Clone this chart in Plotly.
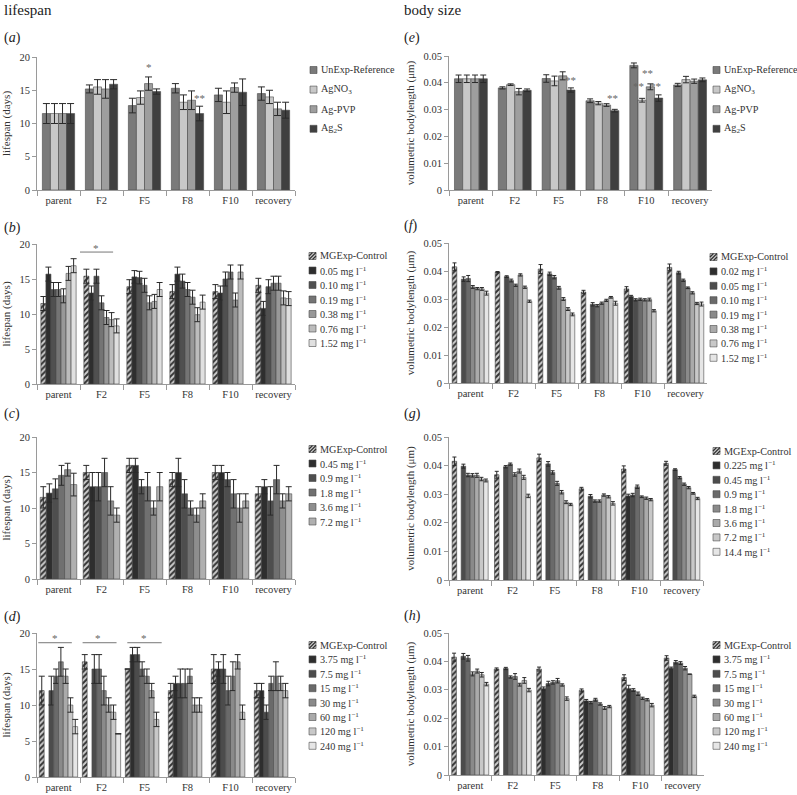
import plotly.graph_objects as go

W, H = 797, 795
GENS = ["parent", "F2", "F5", "F8", "F10", "recovery"]

# ---------------- data (rows = generations, columns = series) ----------------
A_NAMES = ["UnExp-Reference", "AgNO<sub>3</sub>", "Ag-PVP", "Ag<sub>2</sub>S"]
A_MEAN = [[11.5, 11.5, 11.5, 11.5],
          [15.2, 15.5, 15.2, 15.9],
          [12.7, 13.9, 16.0, 14.8],
          [15.3, 13.2, 13.5, 11.5],
          [14.3, 13.2, 15.4, 14.7],
          [14.5, 14.0, 12.2, 12.0]]
A_ERR = [[1.5, 1.5, 1.5, 1.5],
         [0.6, 1.1, 1.4, 0.7],
         [1.1, 1.0, 1.0, 0.4],
         [0.7, 1.1, 1.4, 1.1],
         [1.0, 1.7, 0.7, 2.0],
         [1.0, 1.0, 1.0, 1.2]]

E_MEAN = [[0.0415, 0.0415, 0.0415, 0.0415],
          [0.0381, 0.0393, 0.0367, 0.0372],
          [0.0416, 0.0407, 0.0426, 0.0373],
          [0.0333, 0.0324, 0.0317, 0.0296],
          [0.0465, 0.0335, 0.0385, 0.0343],
          [0.0392, 0.0412, 0.0406, 0.0411]]
E_ERR = [[0.0014, 0.0014, 0.0014, 0.0014],
         [0.0004, 0.0003, 0.0012, 0.0005],
         [0.0014, 0.0018, 0.0015, 0.0008],
         [0.0007, 0.0006, 0.0005, 0.0005],
         [0.0009, 0.0007, 0.0011, 0.0012],
         [0.0006, 0.0012, 0.0008, 0.0007]]

SUP = " mg l<sup>\u22121</sup>"
B_NAMES = ["MGExp-Control"] + [c + SUP for c in ["0.05", "0.10", "0.19", "0.38", "0.76", "1.52"]]
B_MEAN = [[11.5, 15.7, 13.5, 13.5, 12.6, 15.8, 16.9],
          [15.4, 13.0, 15.4, 11.6, 9.5, 9.2, 8.3],
          [13.9, 15.3, 15.2, 14.1, 11.6, 11.8, 13.5],
          [13.2, 15.7, 14.7, 13.5, 12.4, 9.9, 11.7],
          [13.2, 13.0, 15.0, 16.0, 12.0, 16.0, None],
          [14.1, 10.8, 13.9, 14.4, 14.4, 12.3, 12.2]]
B_ERR = [[1.0, 1.0, 1.0, 1.0, 1.0, 1.0, 1.0],
         [1.0, 1.0, 1.0, 1.0, 1.0, 1.0, 1.0],
         [1.0, 0.9, 0.9, 1.0, 1.0, 1.0, 1.0],
         [1.0, 1.0, 1.0, 1.0, 1.0, 1.0, 1.0],
         [1.0, 1.0, 1.0, 1.0, 1.0, 1.0, 0.0],
         [1.0, 1.0, 1.0, 1.0, 1.0, 1.0, 1.0]]

C_NAMES = ["MGExp-Control"] + [c + SUP for c in ["0.45", "0.9", "1.8", "3.6", "7.2"]]
C_MEAN = [[11.5, 12.1, 12.7, 14.6, 15.4, 13.3],
          [15, 13, 13, 15, 11, 9],
          [16, 16, 13, 13, 10, 13],
          [14, 15, 12, 10, 9, 11],
          [15, 15, 14, 12, 10, 11],
          [12, 13, 11, 14, 11, 12]]
C_ERR = [[1.5, 1.3, 1.4, 1.4, 0.9, 1.6],
         [1, 2, 2, 2, 2, 1],
         [1, 1, 1, 2, 1, 2],
         [1, 2, 2, 1, 1, 1],
         [1, 1, 1, 2, 2, 1],
         [1, 1, 2, 2, 1, 1]]

D_NAMES = ["MGExp-Control"] + [c + SUP for c in ["3.75", "7.5", "15", "30", "60", "120", "240"]]
D_MEAN = [[12, None, 12, 14, 16, 14, 10, 7],
          [16, None, 15, 15, 12, 10, 9, 6],
          [15, 17, 17, 15, 14, 12, 8, None],
          [12, 13, 13, 13, 14, 10, 10, None],
          [15, 15, 15, 12, 14, 16, 9, None],
          [12, 12, 9, 13, 14, 13, 12, None]]
D_ERR = [[2, 0, 2, 1, 2, 1, 1, 1],
         [1, 0, 2, 2, 2, 1, 1, 0],
         [0, 1, 1, 1, 1, 1, 1, 0],
         [1, 1, 2, 2, 1, 1, 1, 0],
         [2, 1, 2, 2, 2, 1, 1, 0],
         [1, 1, 1, 1, 2, 1, 1, 0]]

F_NAMES = ["MGExp-Control"] + [c + SUP for c in ["0.02", "0.05", "0.10", "0.19", "0.38", "0.76", "1.52"]]
F_MEAN = [[0.0415, None, 0.0371, 0.0373, 0.0343, 0.0337, 0.0336, 0.0321],
          [0.0396, None, 0.0380, 0.0366, 0.0349, 0.0386, 0.0342, 0.0292],
          [0.0407, None, 0.0390, 0.0378, 0.0340, 0.0300, 0.0264, 0.0245],
          [0.0325, None, 0.0281, 0.0276, 0.0285, 0.0295, 0.0306, 0.0285],
          [0.0336, 0.0309, 0.0297, 0.0299, 0.0297, 0.0298, 0.0258, None],
          [0.0413, None, 0.0394, 0.0367, 0.0340, 0.0322, 0.0284, 0.0282]]
F_ERR = [[0.0014, 0, 0.0008, 0.0011, 0.0005, 0.0004, 0.0005, 0.0007],
         [0.0002, 0, 0.0003, 0.0005, 0.0004, 0.0004, 0.0004, 0.0004],
         [0.0016, 0, 0.0006, 0.0006, 0.0005, 0.0005, 0.0005, 0.0005],
         [0.0006, 0, 0.0006, 0.0004, 0.0004, 0.0004, 0.0003, 0.0007],
         [0.0008, 0.0004, 0.0004, 0.0004, 0.0004, 0.0005, 0.0004, 0],
         [0.0012, 0, 0.0005, 0.0004, 0.0003, 0.0004, 0.0004, 0.0007]]

G_NAMES = ["MGExp-Control"] + [c + SUP for c in ["0.225", "0.45", "0.9", "1.8", "3.6", "7.2", "14.4"]]
G_MEAN = [[0.0415, None, 0.0398, 0.0367, 0.0366, 0.0366, 0.0353, 0.0348],
          [0.0368, None, 0.0396, 0.0405, 0.0369, 0.0381, 0.0359, 0.0294],
          [0.0427, None, 0.0406, 0.0376, 0.0338, 0.0307, 0.0272, 0.0264],
          [0.0319, None, 0.0293, 0.0276, 0.0276, 0.0297, 0.0291, 0.0268],
          [0.0388, 0.0294, 0.0297, 0.0326, 0.0291, 0.0286, 0.0281, None],
          [0.0408, None, 0.0386, 0.0358, 0.0335, 0.0323, 0.0303, 0.0285]]
G_ERR = [[0.0015, 0, 0.0007, 0.0006, 0.0006, 0.0007, 0.0006, 0.0005],
         [0.0012, 0, 0.0004, 0.0004, 0.0006, 0.0007, 0.0007, 0.0006],
         [0.0013, 0, 0.0008, 0.0006, 0.0007, 0.0006, 0.0005, 0.0004],
         [0.0005, 0, 0.0006, 0.0004, 0.0004, 0.0004, 0.0004, 0.0006],
         [0.0011, 0.0006, 0.0006, 0.0006, 0.0003, 0.0004, 0.0004, 0],
         [0.0007, 0, 0.0003, 0.0004, 0.0004, 0.0004, 0.0003, 0.0004]]

H_NAMES = D_NAMES
H_MEAN = [[0.0415, None, 0.0418, 0.0411, 0.0356, 0.0366, 0.0353, 0.0320],
          [0.0373, None, 0.0375, 0.0345, 0.0347, 0.0318, 0.0333, 0.0299],
          [0.0373, 0.0304, 0.0322, 0.0326, 0.0332, 0.0317, 0.0269, None],
          [0.0298, 0.0261, 0.0255, 0.0265, 0.0250, 0.0236, 0.0241, None],
          [0.0343, 0.0304, 0.0299, 0.0286, 0.0270, 0.0265, 0.0246, None],
          [0.0412, 0.0376, 0.0397, 0.0394, 0.0376, 0.0355, 0.0277, None]]
H_ERR = [[0.0014, 0, 0.0010, 0.0010, 0.0007, 0.0007, 0.0008, 0.0006],
         [0.0004, 0, 0.0004, 0.0004, 0.0010, 0.0005, 0.0010, 0.0006],
         [0.0007, 0.0006, 0.0008, 0.0006, 0.0008, 0.0004, 0.0006, 0],
         [0.0005, 0.0005, 0.0004, 0.0005, 0.0004, 0.0005, 0.0004, 0],
         [0.0010, 0.0012, 0.0005, 0.0006, 0.0004, 0.0004, 0.0006, 0],
         [0.0008, 0.0004, 0.0006, 0.0005, 0.0006, 0, 0.0004, 0]]

# ---------------- styles ----------------
FONT = "Liberation Serif, Times New Roman, serif"
TXT = "#333333"
AXC = "#9a9a9a"
A_COLORS = ["#7a7a7a", "#c8c8c8", "#9e9e9e", "#404040"]
RAMP7 = ["#2e2e2e", "#4c4c4c", "#6a6a6a", "#8a8a8a", "#aaaaaa", "#c8c8c8", "#e6e6e6"]
RAMP6 = ["#2e2e2e", "#505050", "#747474", "#989898", "#bcbcbc", "#e0e0e0"]
RAMP5 = ["#2e2e2e", "#4e4e4e", "#707070", "#8e8e8e", "#b0b0b0"]
HATCH_BG = "#cfcfcf"
HATCH_FG = "#333333"
TICK_SIZE = 10.5
LEG_SIZE = 10.2

LIFE = "lifespan (days)"
BODY = "volumetric bodylength (\u03bcm)"

panels = [
    dict(lab="a", names=A_NAMES, mean=A_MEAN, err=A_ERR, cols=A_COLORS, hatch=False,
         ymax=20, dtick=5, ytitle=LIFE, px=(37, 295), py=(57, 190), gap=0.25, cap=3.5,
         leg=(310, 70, 19.6)),
    dict(lab="b", names=B_NAMES, mean=B_MEAN, err=B_ERR, cols=RAMP6, hatch=True,
         ymax=20, dtick=5, ytitle=LIFE, px=(37, 295), py=(244, 384), gap=0.18, cap=3,
         leg=(309, 256, 14.5)),
    dict(lab="c", names=C_NAMES, mean=C_MEAN, err=C_ERR, cols=RAMP5, hatch=True,
         ymax=20, dtick=5, ytitle=LIFE, px=(37, 295), py=(437, 579), gap=0.15, cap=3,
         leg=(309, 449, 14.5)),
    dict(lab="d", names=D_NAMES, mean=D_MEAN, err=D_ERR, cols=RAMP7, hatch=True,
         ymax=20, dtick=5, ytitle=LIFE, px=(37, 295), py=(633, 777), gap=0.11, cap=3,
         leg=(309, 645, 14.4)),
    dict(lab="e", names=A_NAMES, mean=E_MEAN, err=E_ERR, cols=A_COLORS, hatch=False,
         ymax=0.05, dtick=0.01, ytitle=BODY, px=(449, 712), py=(56, 190), gap=0.25, cap=3,
         leg=(713, 70, 19.6)),
    dict(lab="f", names=F_NAMES, mean=F_MEAN, err=F_ERR, cols=RAMP7, hatch=True,
         ymax=0.05, dtick=0.01, ytitle=BODY, px=(449, 707), py=(243, 383), gap=0.15, cap=2,
         leg=(710, 257, 14.4)),
    dict(lab="g", names=G_NAMES, mean=G_MEAN, err=G_ERR, cols=RAMP7, hatch=True,
         ymax=0.05, dtick=0.01, ytitle=BODY, px=(449, 703), py=(437, 580), gap=0.15, cap=2,
         leg=(713, 451, 14.4)),
    dict(lab="h", names=H_NAMES, mean=H_MEAN, err=H_ERR, cols=RAMP7, hatch=True,
         ymax=0.05, dtick=0.01, ytitle=BODY, px=(449, 704), py=(633, 775), gap=0.13, cap=2,
         leg=(713, 645, 14.4)),
]

LABEL_POS = {"a": (2, 38), "b": (2, 228), "c": (2, 414), "d": (2, 617),
             "e": (402, 38), "f": (402, 226), "g": (402, 414), "h": (402, 616)}


def fx(p):
    return p / W


def fy(p):
    return 1 - p / H


fig = go.Figure()
shapes = []
annotations = []
layout = {}

for k, P in enumerate(panels, start=1):
    xa = "x" if k == 1 else f"x{k}"
    ya = "y" if k == 1 else f"y{k}"
    n = len(P["names"])
    bw = (1 - P["gap"]) / n
    series_mean = list(zip(*P["mean"]))
    series_err = list(zip(*P["err"]))
    for j in range(n):
        if P["hatch"]:
            if j == 0:
                marker = dict(color=HATCH_BG, line=dict(color="#3a3a3a", width=0.6),
                              pattern=dict(shape="/", fgcolor=HATCH_FG, bgcolor=HATCH_BG,
                                           size=4, solidity=0.5, fillmode="replace"))
            else:
                marker = dict(color=P["cols"][j - 1], line=dict(color="#4a4a4a", width=0.6))
        else:
            marker = dict(color=P["cols"][j], line=dict(color="#4a4a4a", width=0.6))
        fig.add_trace(go.Bar(
            x=GENS, y=list(series_mean[j]), name=P["names"][j],
            xaxis=xa, yaxis=ya, width=bw, offset=-(1 - P["gap"]) / 2 + j * bw,
            marker=marker,
            error_y=dict(type="data", array=list(series_err[j]), visible=True,
                         color="#2a2a2a", thickness=1, width=P["cap"]),
            showlegend=False,
        ))
    xkey = "xaxis" if k == 1 else f"xaxis{k}"
    ykey = "yaxis" if k == 1 else f"yaxis{k}"
    layout[xkey] = dict(domain=[fx(P["px"][0]), fx(P["px"][1])], anchor=ya,
                        type="category", categoryorder="array", categoryarray=GENS,
                        range=[-0.5, 5.5], showline=True, linecolor=AXC, linewidth=1,
                        ticks="outside", tickson="boundaries", ticklen=5, tickcolor=AXC,
                        tickangle=0, showgrid=False, zeroline=False, automargin=False,
                        tickfont=dict(family=FONT, size=TICK_SIZE, color=TXT))
    layout[ykey] = dict(domain=[fy(P["py"][1]), fy(P["py"][0])], anchor=xa,
                        range=[0, P["ymax"]], dtick=P["dtick"], tick0=0,
                        showline=True, linecolor=AXC, linewidth=1,
                        ticks="outside", ticklen=4, tickcolor=AXC,
                        showgrid=False, zeroline=False, automargin=False,
                        tickfont=dict(family=FONT, size=TICK_SIZE, color=TXT),
                        title=dict(text=P["ytitle"], font=dict(family=FONT, size=11, color=TXT),
                                   standoff=6))
    # panel label
    lx, ly = LABEL_POS[P["lab"]]
    annotations.append(dict(text=f"(<i>{P['lab']}</i>)", x=fx(lx), y=fy(ly), xref="paper",
                            yref="paper", xanchor="left", yanchor="middle", showarrow=False,
                            font=dict(family=FONT, size=14, color="#222")))
    # manual legend
    lx0, ly0, step = P["leg"]
    s = 7
    for j, name in enumerate(P["names"]):
        cy = ly0 + j * step
        if P["hatch"] and j == 0:
            shapes.append(dict(type="rect", xref="paper", yref="paper",
                               x0=fx(lx0), x1=fx(lx0 + s), y0=fy(cy + s / 2), y1=fy(cy - s / 2),
                               fillcolor=HATCH_BG, line=dict(color="#3a3a3a", width=0.6)))
            for (a0, b0, a1, b1) in [(0, s, s, 0), (0, s / 2, s / 2, 0), (s / 2, s, s, s / 2)]:
                shapes.append(dict(type="line", xref="paper", yref="paper",
                                   x0=fx(lx0 + a0), y0=fy(cy - s / 2 + b0),
                                   x1=fx(lx0 + a1), y1=fy(cy - s / 2 + b1),
                                   line=dict(color=HATCH_FG, width=1.3)))
        else:
            c = P["cols"][j - 1] if P["hatch"] else P["cols"][j]
            shapes.append(dict(type="rect", xref="paper", yref="paper",
                               x0=fx(lx0), x1=fx(lx0 + s), y0=fy(cy + s / 2), y1=fy(cy - s / 2),
                               fillcolor=c, line=dict(color="#4a4a4a", width=0.6)))
        annotations.append(dict(text=name, x=fx(lx0 + s + 1.5), y=fy(cy), xref="paper",
                                yref="paper", xanchor="left", yanchor="middle", showarrow=False,
                                font=dict(family=FONT, size=LEG_SIZE, color=TXT)))

# headings
annotations.append(dict(text="lifespan", x=fx(2), y=fy(10), xref="paper", yref="paper",
                        xanchor="left", yanchor="middle", showarrow=False,
                        font=dict(family=FONT, size=15, color="#222")))
annotations.append(dict(text="body size", x=fx(402), y=fy(10), xref="paper", yref="paper",
                        xanchor="left", yanchor="middle", showarrow=False,
                        font=dict(family=FONT, size=15, color="#222")))

# significance markers
STAR = dict(family=FONT, size=11, color="#666666")
sig = [("x", "y", "F5", 18.5, 4, "*"), ("x", "y", "F8", 13.9, 12, "**"),
       ("x5", "y5", "F5", 0.0410, 12, "**"), ("x5", "y5", "F8", 0.0342, 10, "**"),
       ("x5", "y5", "F10", 0.0438, 1, "**"), ("x5", "y5", "F10", 0.0388, -8, "**"),
       ("x5", "y5", "F10", 0.0388, 9, "**")]
for xr, yr, cat, yv, sh, t in sig:
    annotations.append(dict(text=t, x=cat, y=yv, xref=xr, yref=yr, xshift=sh,
                            showarrow=False, font=STAR, yanchor="middle"))

# bracket lines (category-index coordinates)
lines = [("x2", "y2", 0.5, 1.27, 18.85, 0.88, 19.45),
         ("x4", "y4", -0.47, 0.31, 18.65, -0.07, 19.3),
         ("x4", "y4", 0.56, 1.35, 18.65, 0.93, 19.3),
         ("x4", "y4", 1.60, 2.40, 18.65, 1.99, 19.3)]
for xr, yr, a0, a1, yl, xs, ys in lines:
    shapes.append(dict(type="line", xref=xr, yref=yr, x0=a0, x1=a1, y0=yl, y1=yl,
                       line=dict(color="#777", width=1)))
    annotations.append(dict(text="*", x=xs, y=ys, xref=xr, yref=yr, showarrow=False,
                            font=STAR, yanchor="middle"))

fig.update_layout(width=W, height=H, margin=dict(l=0, r=0, t=0, b=0, autoexpand=False),
                  paper_bgcolor="white", plot_bgcolor="white", barmode="overlay",
                  showlegend=False, font=dict(family=FONT, size=11, color=TXT),
                  shapes=shapes, annotations=annotations, **layout)

fig.write_html("out.html", config={"displayModeBar": False},
               post_script="document.body.style.margin='0';document.body.style.overflow='hidden';")
